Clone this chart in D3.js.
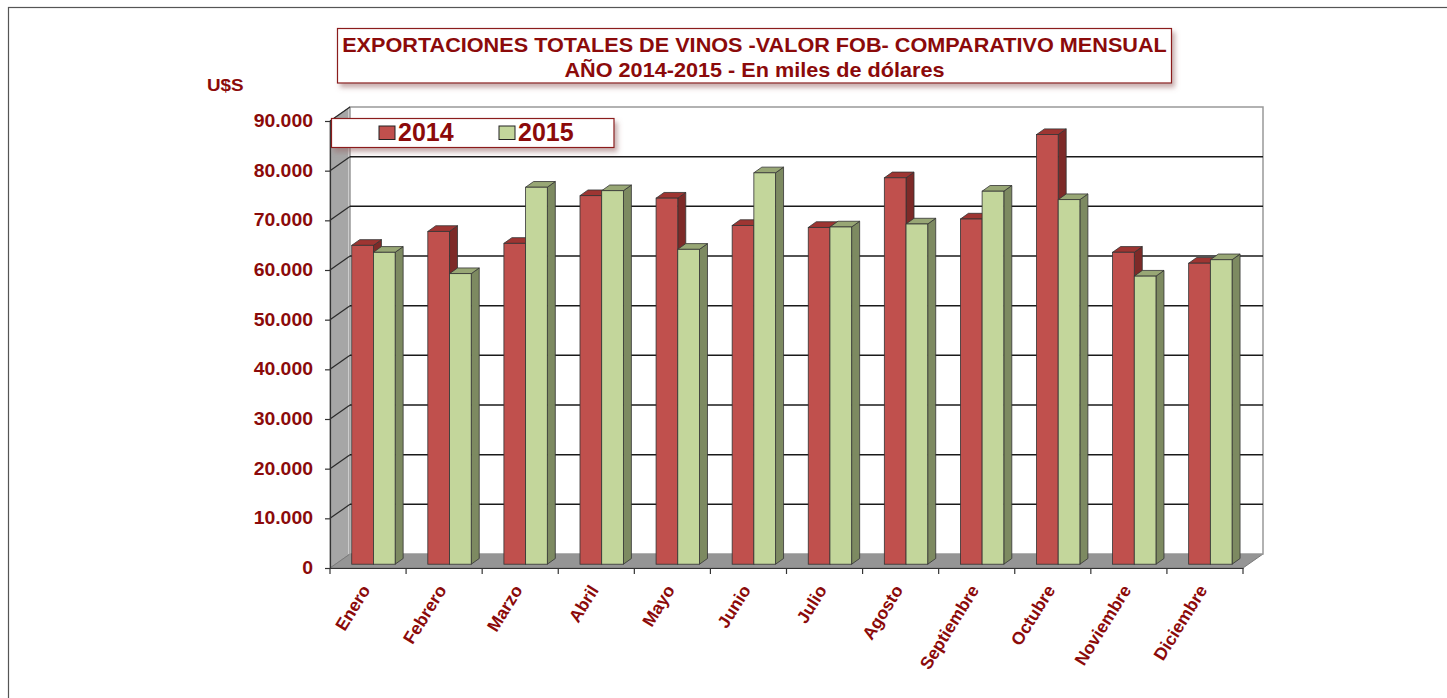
<!DOCTYPE html>
<html><head><meta charset="utf-8">
<script src="https://cdn.jsdelivr.net/npm/d3@7"></script>
<style>
html,body{margin:0;padding:0;background:#fff;}
svg{display:block;font-family:"Liberation Sans",Arial,sans-serif;}
</style></head>
<body>
<svg id="chart" width="1447" height="698"></svg>
<script>
const categories = ["Enero","Febrero","Marzo","Abril","Mayo","Junio","Julio","Agosto","Septiembre","Octubre","Noviembre","Diciembre"];
const series = ["2014","2015"];
const values2014 = [64200, 67000, 64600, 74200, 73700, 68200, 67800, 77800, 69500, 86500, 62800, 60600];
const values2015 = [62800, 58500, 75900, 75200, 63400, 78800, 67900, 68500, 75100, 73400, 58000, 61300];
const yTicks = [0,10000,20000,30000,40000,50000,60000,70000,80000,90000];
const titleLines = ["EXPORTACIONES TOTALES DE VINOS -VALOR FOB- COMPARATIVO MENSUAL","AÑO 2014-2015 - En miles de dólares"];
const yUnit = "U$S";

const TXT = "#8B0A0A";
const SX = 1.11; // horizontal text stretch seen in the reference
const svg = d3.select("#chart");
const defs = svg.append("defs");
const f = defs.append("filter").attr("id","shadow").attr("x","-5%").attr("y","-20%").attr("width","115%").attr("height","160%");
f.append("feDropShadow").attr("dx",3).attr("dy",4).attr("stdDeviation",2.5).attr("flood-color","#9a6a6a").attr("flood-opacity",0.55);

// outer frame
svg.append("rect").attr("x",8.5).attr("y",7.5).attr("width",1460).attr("height",720)
  .attr("fill","none").attr("stroke","#555").attr("stroke-width",1.2);

const loc = d3.formatLocale({decimal:",",thousands:".",grouping:[3],currency:["$",""]});
const fmt = loc.format(",");

const x0 = 330, x1 = 1243, yBase = 568, yTop = 121;
const DX = 20, DY = -14;
const y = d3.scaleLinear().domain([0,90000]).range([yBase,yTop]);
const x = d3.scaleBand().domain(categories).range([x0,x1]).padding(0);
const grp = 43.4;
const xs = d3.scaleBand().domain(series).range([(x.step()-grp)/2,(x.step()+grp)/2]);

// side wall
svg.append("polygon")
  .attr("points",[[x0,y(90000)],[x0+DX,y(90000)+DY],[x0+DX,yBase+DY],[x0,yBase]].map(p=>p.join(",")).join(" "))
  .attr("fill","#a6a6a6").attr("stroke","#8a8a8a").attr("stroke-width",1);
svg.append("line").attr("x1",x0+DX-1).attr("x2",x0+DX-1).attr("y1",y(90000)+DY+1).attr("y2",yBase+DY)
  .attr("stroke","#d8d8d8").attr("stroke-width",1.5);
// floor
svg.append("polygon")
  .attr("points",[[x0,yBase],[x0+DX,yBase+DY],[x1+DX,yBase+DY],[x1,yBase]].map(p=>p.join(",")).join(" "))
  .attr("fill","#959595").attr("stroke","#7a7a7a").attr("stroke-width",1);
// back wall
svg.append("rect").attr("x",x0+DX).attr("y",y(90000)+DY).attr("width",x1-x0).attr("height",yBase-y(90000))
  .attr("fill","#fff").attr("stroke","#999").attr("stroke-width",1.5);

// gridlines
const grid = svg.append("g");
yTicks.filter(v=>v>0 && v<90000).forEach(v=>{
  grid.append("line").attr("x1",x0+DX).attr("x2",x1+DX).attr("y1",y(v)+DY).attr("y2",y(v)+DY)
    .attr("stroke","#1a1a1a").attr("stroke-width",1.5);
});
yTicks.filter(v=>v>0).forEach(v=>{
  grid.append("line").attr("x1",x0).attr("x2",x0+DX).attr("y1",y(v)).attr("y2",y(v)+DY)
    .attr("stroke","#2a2a2a").attr("stroke-width",1.2);
});

// bars
const bdx = 8, bdy = -5.7, offx = 5.4, offy = -3.8;
const colors = {
  "2014":{front:"#c0504d",top:"#9e3532",side:"#7d2a28"},
  "2015":{front:"#c3d69b",top:"#98a775",side:"#7d8a61"}
};
const bars = svg.append("g");
categories.forEach((c,i)=>{
  [["2014",values2014[i]],["2015",values2015[i]]].forEach(([s,v])=>{
    const bx = x(c)+xs(s)+offx, w = xs.bandwidth();
    const yt = y(v)+offy, yb = y(0)+offy;
    const col = colors[s];
    bars.append("polygon")
      .attr("points",[[bx+w,yt],[bx+w+bdx,yt+bdy],[bx+w+bdx,yb+bdy],[bx+w,yb]].map(p=>p.join(",")).join(" "))
      .attr("fill",col.side).attr("stroke","#333").attr("stroke-width",0.8);
    bars.append("polygon")
      .attr("points",[[bx,yt],[bx+w,yt],[bx+w+bdx,yt+bdy],[bx+bdx,yt+bdy]].map(p=>p.join(",")).join(" "))
      .attr("fill",col.top).attr("stroke","#333").attr("stroke-width",0.8);
    bars.append("rect").attr("x",bx).attr("y",yt).attr("width",w).attr("height",yb-yt)
      .attr("fill",col.front).attr("stroke","#333").attr("stroke-width",0.8);
  });
});

// y axis
const yAxis = d3.axisLeft(y).tickValues(yTicks).tickSize(5).tickPadding(10).tickFormat(fmt);
const ga = svg.append("g").attr("transform",`translate(${x0},0)`).call(yAxis);
ga.select(".domain").attr("stroke","#333").attr("stroke-width",1.2);
ga.selectAll(".tick line").attr("stroke","#333").attr("stroke-width",1.2);
ga.selectAll(".tick text").attr("fill",TXT).attr("font-size",17.5).attr("font-weight","bold")
  .attr("font-family","'Liberation Sans',Arial,sans-serif")
  .attr("x",-17/SX).attr("transform",`scale(${SX},1)`);

// x axis
const xAxis = d3.axisBottom(x).tickSize(0).tickFormat("");
const gx = svg.append("g").attr("transform",`translate(0,${yBase})`).call(xAxis);
gx.select(".domain").attr("stroke","#333").attr("stroke-width",1.2);
const bounds = categories.map(c=>x(c)).concat([x1]);
gx.selectAll(".bt").data(bounds).enter().append("line").attr("class","bt")
  .attr("x1",d=>d).attr("x2",d=>d).attr("y1",0).attr("y2",6).attr("stroke","#333").attr("stroke-width",1.2);
svg.append("g").selectAll("text").data(categories).enter().append("text")
  .attr("x",0).attr("y",0)
  .attr("transform",d=>`translate(${x(d)+x.bandwidth()/2+3},590) rotate(-58)`)
  .attr("text-anchor","end").attr("fill",TXT).attr("font-size",17.5).attr("font-weight","bold")
  .text(d=>d);

// unit label
svg.append("text").attr("transform",`translate(207,91) scale(${SX},1)`).attr("fill",TXT)
  .attr("font-size",17).attr("font-weight","bold").text(yUnit);

// title box
svg.append("rect").attr("x",337.5).attr("y",28.5).attr("width",834).attr("height",54.5)
  .attr("fill","#fff").attr("stroke","#8B1A1A").attr("stroke-width",1.2).attr("filter","url(#shadow)");
svg.append("text").attr("transform",`translate(754.5,52.3) scale(${SX},1)`).attr("text-anchor","middle").attr("fill",TXT)
  .attr("font-size",19.5).attr("font-weight","bold").text(titleLines[0]);
svg.append("text").attr("transform",`translate(754.5,77.3) scale(${SX},1)`).attr("text-anchor","middle").attr("fill",TXT)
  .attr("font-size",19.5).attr("font-weight","bold").text(titleLines[1]);

// legend
const lg = svg.append("g");
lg.append("rect").attr("x",331.5).attr("y",118.5).attr("width",282.5).attr("height",29)
  .attr("fill","#fff").attr("stroke","#8B1A1A").attr("stroke-width",1.2).attr("filter","url(#shadow)");
const lx = [379,499];
series.forEach((s,i)=>{
  lg.append("rect").attr("x",lx[i]).attr("y",126).attr("width",16).attr("height",13.5)
    .attr("fill",colors[s].front).attr("stroke","#222").attr("stroke-width",1);
  lg.append("text").attr("x",lx[i]+19).attr("y",141).attr("fill",TXT).attr("font-size",25).attr("font-weight","bold").text(s);
});
</script>
</body></html>
